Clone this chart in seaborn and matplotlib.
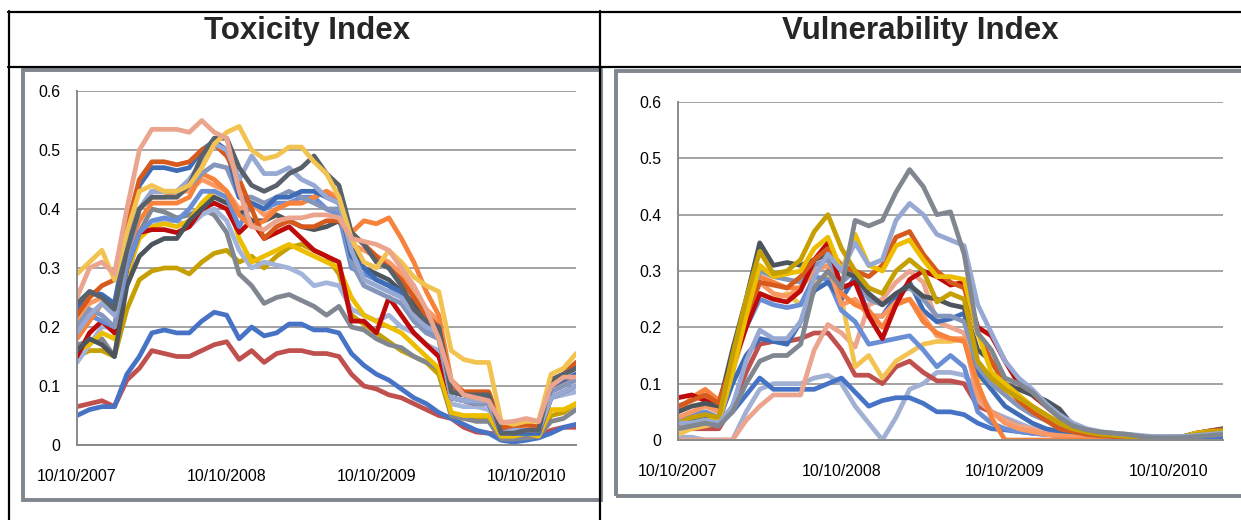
import matplotlib
matplotlib.use("Agg")
import matplotlib.pyplot as plt
import pandas as pd
import seaborn as sns
from matplotlib.patches import Rectangle
from matplotlib.lines import Line2D

# ---------------- data ----------------
months = list(range(41))                       # months since 10/10/2007
tick_months = [0, 12, 24, 36]
tick_labels = ["10/10/2007", "10/10/2008", "10/10/2009", "10/10/2010"]
y_ticks = [0, 0.1, 0.2, 0.3, 0.4, 0.5, 0.6]
y_tick_labels = ["0", "0.1", "0.2", "0.3", "0.4", "0.5", "0.6"]
titles = ["Toxicity Index", "Vulnerability Index"]

# Toxicity Index series
tox_salmon = [0.25,0.30,0.31,0.29,0.40,0.50,0.535,0.535,0.535,0.53,0.55,0.53,0.52,0.43,0.37,0.365,0.38,0.385,0.385,0.39,0.39,0.385,0.35,0.345,0.34,0.33,0.30,0.27,0.23,0.18,0.11,0.085,0.08,0.075,0.038,0.04,0.045,0.04,0.10,0.115,0.115]
tox_yellow = [0.29,0.31,0.33,0.28,0.36,0.43,0.44,0.43,0.43,0.44,0.47,0.51,0.53,0.54,0.50,0.485,0.49,0.505,0.505,0.48,0.46,0.42,0.35,0.31,0.30,0.33,0.31,0.285,0.27,0.26,0.16,0.145,0.14,0.14,0.04,0.035,0.04,0.04,0.12,0.13,0.155]
tox_dorange = [0.22,0.25,0.27,0.28,0.37,0.45,0.48,0.48,0.475,0.48,0.50,0.51,0.49,0.45,0.40,0.35,0.37,0.38,0.37,0.37,0.38,0.38,0.36,0.34,0.32,0.30,0.28,0.25,0.22,0.20,0.10,0.09,0.09,0.09,0.03,0.03,0.035,0.03,0.11,0.12,0.14]
tox_dgray = [0.24,0.26,0.25,0.23,0.33,0.40,0.42,0.42,0.42,0.44,0.49,0.52,0.52,0.47,0.44,0.43,0.44,0.46,0.47,0.49,0.46,0.44,0.36,0.34,0.31,0.30,0.27,0.23,0.21,0.20,0.09,0.085,0.085,0.085,0.02,0.02,0.025,0.025,0.11,0.12,0.13]
tox_royal = [0.23,0.26,0.255,0.24,0.35,0.44,0.47,0.47,0.465,0.47,0.50,0.515,0.50,0.42,0.41,0.40,0.42,0.42,0.43,0.43,0.42,0.41,0.32,0.30,0.28,0.27,0.26,0.22,0.21,0.19,0.09,0.085,0.08,0.08,0.025,0.02,0.02,0.02,0.10,0.11,0.12]
tox_lsteel = [0.19,0.22,0.24,0.22,0.33,0.40,0.43,0.43,0.43,0.45,0.48,0.51,0.50,0.45,0.49,0.46,0.46,0.47,0.45,0.44,0.42,0.41,0.33,0.28,0.27,0.26,0.25,0.22,0.20,0.19,0.08,0.075,0.075,0.075,0.02,0.025,0.025,0.025,0.08,0.09,0.10]
tox_grayblue = [0.20,0.23,0.22,0.20,0.32,0.40,0.43,0.43,0.43,0.44,0.46,0.475,0.47,0.42,0.42,0.41,0.42,0.43,0.42,0.41,0.40,0.40,0.31,0.27,0.26,0.25,0.24,0.21,0.19,0.18,0.08,0.075,0.07,0.07,0.02,0.02,0.02,0.02,0.09,0.10,0.11]
tox_orange = [0.18,0.21,0.24,0.23,0.33,0.38,0.41,0.41,0.41,0.42,0.46,0.45,0.43,0.39,0.37,0.38,0.40,0.41,0.41,0.42,0.43,0.41,0.36,0.38,0.375,0.385,0.35,0.31,0.26,0.22,0.11,0.09,0.09,0.09,0.03,0.03,0.035,0.03,0.10,0.11,0.12]
tox_blue = [0.20,0.22,0.21,0.20,0.30,0.36,0.38,0.385,0.38,0.40,0.43,0.43,0.42,0.37,0.41,0.40,0.41,0.41,0.42,0.42,0.40,0.39,0.30,0.29,0.28,0.27,0.25,0.22,0.20,0.18,0.08,0.075,0.075,0.075,0.02,0.02,0.02,0.02,0.08,0.09,0.10]
tox_red = [0.15,0.19,0.21,0.19,0.30,0.36,0.365,0.365,0.36,0.37,0.40,0.41,0.40,0.36,0.38,0.35,0.36,0.37,0.35,0.33,0.32,0.31,0.21,0.21,0.19,0.25,0.22,0.19,0.17,0.15,0.08,0.075,0.07,0.07,0.02,0.02,0.02,0.02,0.08,0.09,0.10]
tox_gold = [0.16,0.17,0.19,0.18,0.29,0.35,0.37,0.375,0.37,0.38,0.41,0.43,0.42,0.35,0.31,0.32,0.33,0.34,0.33,0.32,0.31,0.30,0.25,0.22,0.21,0.20,0.19,0.17,0.15,0.13,0.055,0.05,0.05,0.05,0.015,0.015,0.02,0.015,0.06,0.06,0.07]
tox_olive = [0.15,0.16,0.16,0.15,0.23,0.28,0.295,0.30,0.30,0.29,0.31,0.325,0.33,0.31,0.32,0.30,0.32,0.335,0.34,0.33,0.32,0.29,0.22,0.205,0.19,0.175,0.16,0.15,0.14,0.12,0.05,0.045,0.045,0.045,0.015,0.015,0.015,0.015,0.05,0.055,0.07]
tox_gray = [0.17,0.175,0.18,0.15,0.28,0.36,0.40,0.395,0.385,0.39,0.40,0.39,0.36,0.29,0.27,0.24,0.25,0.255,0.245,0.235,0.22,0.235,0.20,0.195,0.18,0.17,0.165,0.15,0.14,0.13,0.05,0.045,0.04,0.04,0.01,0.01,0.012,0.015,0.04,0.045,0.06]
tox_lblue = [0.14,0.17,0.20,0.20,0.31,0.36,0.37,0.38,0.38,0.37,0.39,0.40,0.38,0.33,0.30,0.31,0.305,0.30,0.29,0.27,0.275,0.27,0.23,0.22,0.21,0.22,0.20,0.19,0.17,0.16,0.07,0.065,0.065,0.06,0.02,0.02,0.02,0.02,0.08,0.085,0.09]
tox_blue2 = [0.05,0.06,0.065,0.065,0.12,0.15,0.19,0.195,0.19,0.19,0.21,0.225,0.22,0.18,0.20,0.185,0.19,0.205,0.205,0.195,0.195,0.19,0.155,0.135,0.12,0.11,0.095,0.08,0.07,0.055,0.045,0.035,0.025,0.02,0.008,0.005,0.008,0.012,0.02,0.03,0.035]
tox_brick = [0.065,0.07,0.075,0.065,0.11,0.13,0.16,0.155,0.15,0.15,0.16,0.17,0.175,0.145,0.16,0.14,0.155,0.16,0.16,0.155,0.155,0.15,0.12,0.10,0.095,0.085,0.08,0.07,0.06,0.05,0.045,0.03,0.022,0.02,0.018,0.012,0.012,0.015,0.025,0.03,0.03]
tox_slate = [0.16,0.18,0.17,0.15,0.27,0.32,0.34,0.35,0.35,0.38,0.40,0.42,0.41,0.40,0.38,0.38,0.39,0.38,0.37,0.365,0.37,0.38,0.34,0.30,0.29,0.28,0.26,0.24,0.22,0.20,0.09,0.085,0.08,0.075,0.02,0.02,0.02,0.02,0.11,0.12,0.13]
tox_coral = [0.21,0.24,0.25,0.23,0.33,0.40,0.42,0.42,0.43,0.43,0.45,0.44,0.43,0.40,0.41,0.39,0.40,0.41,0.41,0.42,0.43,0.42,0.34,0.33,0.32,0.31,0.29,0.26,0.23,0.21,0.09,0.085,0.085,0.08,0.025,0.025,0.03,0.025,0.10,0.105,0.11]

# Vulnerability Index series
vul_gray = [0.02,0.025,0.03,0.025,0.05,0.10,0.14,0.15,0.15,0.17,0.27,0.30,0.27,0.39,0.38,0.39,0.44,0.48,0.45,0.40,0.405,0.33,0.19,0.16,0.11,0.10,0.085,0.06,0.04,0.025,0.018,0.014,0.012,0.01,0.006,0.004,0.004,0.004,0.006,0.008,0.01]
vul_lsteel = [0.03,0.03,0.035,0.03,0.06,0.14,0.195,0.18,0.18,0.21,0.29,0.33,0.30,0.35,0.31,0.32,0.39,0.42,0.40,0.365,0.355,0.345,0.24,0.19,0.14,0.11,0.09,0.065,0.045,0.03,0.02,0.015,0.012,0.01,0.008,0.006,0.006,0.006,0.008,0.01,0.012]
vul_slate = [0.05,0.06,0.065,0.06,0.16,0.25,0.35,0.31,0.315,0.31,0.32,0.33,0.30,0.29,0.26,0.24,0.26,0.275,0.255,0.25,0.24,0.235,0.16,0.14,0.10,0.09,0.08,0.07,0.055,0.025,0.015,0.012,0.01,0.008,0.006,0.005,0.005,0.006,0.012,0.016,0.02]
vul_olive = [0.03,0.04,0.045,0.04,0.15,0.25,0.335,0.295,0.30,0.32,0.37,0.40,0.34,0.30,0.27,0.26,0.30,0.32,0.30,0.245,0.26,0.25,0.14,0.11,0.09,0.075,0.06,0.045,0.03,0.02,0.014,0.01,0.008,0.006,0.005,0.004,0.004,0.005,0.01,0.014,0.016]
vul_dorange = [0.06,0.07,0.08,0.065,0.14,0.22,0.28,0.275,0.27,0.29,0.32,0.34,0.31,0.30,0.29,0.31,0.36,0.37,0.33,0.30,0.28,0.27,0.19,0.14,0.10,0.07,0.05,0.035,0.02,0.015,0.01,0.008,0.006,0.005,0.004,0.004,0.004,0.005,0.012,0.016,0.018]
vul_gold = [0.02,0.03,0.035,0.035,0.12,0.22,0.31,0.29,0.295,0.30,0.34,0.36,0.30,0.365,0.31,0.30,0.345,0.355,0.32,0.29,0.29,0.285,0.19,0.12,0.10,0.08,0.06,0.045,0.03,0.02,0.016,0.014,0.012,0.01,0.005,0.004,0.004,0.005,0.012,0.015,0.016]
vul_red = [0.075,0.08,0.07,0.06,0.13,0.20,0.26,0.25,0.245,0.265,0.32,0.35,0.27,0.28,0.22,0.18,0.24,0.285,0.30,0.29,0.275,0.28,0.20,0.185,0.14,0.10,0.08,0.06,0.04,0.025,0.015,0.01,0.008,0.006,0.005,0.004,0.004,0.005,0.01,0.012,0.014]
vul_orange = [0.05,0.075,0.09,0.07,0.14,0.22,0.29,0.28,0.27,0.27,0.32,0.33,0.26,0.24,0.23,0.20,0.24,0.25,0.21,0.19,0.18,0.175,0.10,0.04,0.0,0.0,0.0,0.0,0.0,0.0,0.0,0.0,0.0,0.0,0.0,0.0,0.0,0.004,0.012,0.016,0.02]
vul_coral = [0.04,0.05,0.06,0.05,0.13,0.21,0.28,0.26,0.255,0.27,0.30,0.31,0.24,0.25,0.22,0.22,0.245,0.25,0.22,0.185,0.18,0.18,0.08,0.05,0.03,0.02,0.015,0.01,0.008,0.006,0.005,0.004,0.004,0.004,0.003,0.003,0.003,0.004,0.01,0.014,0.016]
vul_salmon = [0.0,0.0,0.0,0.0,0.0,0.035,0.06,0.08,0.08,0.08,0.16,0.205,0.19,0.165,0.24,0.25,0.28,0.30,0.28,0.21,0.20,0.19,0.07,0.05,0.035,0.025,0.02,0.015,0.01,0.008,0.006,0.005,0.004,0.004,0.003,0.003,0.003,0.004,0.008,0.01,0.012]
vul_brick = [0.03,0.02,0.02,0.02,0.06,0.12,0.17,0.175,0.175,0.18,0.19,0.19,0.16,0.115,0.115,0.10,0.13,0.14,0.12,0.105,0.105,0.10,0.06,0.05,0.035,0.025,0.018,0.012,0.01,0.008,0.006,0.005,0.004,0.004,0.003,0.003,0.003,0.004,0.008,0.01,0.012]
vul_blue2 = [0.04,0.04,0.035,0.03,0.05,0.08,0.11,0.09,0.09,0.09,0.09,0.10,0.11,0.085,0.06,0.07,0.075,0.075,0.065,0.05,0.05,0.045,0.03,0.02,0.018,0.015,0.012,0.01,0.008,0.006,0.005,0.004,0.004,0.004,0.004,0.004,0.004,0.004,0.005,0.006,0.006]
vul_lav = [0.005,0.005,0.0,0.0,0.0,0.05,0.09,0.10,0.10,0.10,0.11,0.115,0.10,0.06,0.03,0.0,0.04,0.09,0.10,0.12,0.12,0.115,0.09,0.05,0.04,0.03,0.02,0.015,0.01,0.008,0.006,0.005,0.005,0.004,0.004,0.004,0.004,0.004,0.005,0.005,0.005]
vul_blue = [0.04,0.045,0.05,0.04,0.13,0.20,0.25,0.24,0.235,0.24,0.29,0.285,0.23,0.21,0.17,0.175,0.18,0.185,0.16,0.13,0.15,0.13,0.05,0.03,0.02,0.015,0.012,0.01,0.008,0.006,0.005,0.005,0.005,0.005,0.005,0.005,0.005,0.005,0.006,0.008,0.01]
vul_royal = [0.03,0.035,0.04,0.035,0.10,0.15,0.18,0.175,0.17,0.21,0.265,0.28,0.25,0.29,0.22,0.22,0.255,0.28,0.23,0.21,0.215,0.225,0.12,0.09,0.06,0.045,0.03,0.02,0.015,0.01,0.008,0.006,0.005,0.005,0.005,0.005,0.005,0.005,0.008,0.01,0.01]
vul_yellow = [0.01,0.02,0.025,0.03,0.12,0.20,0.26,0.25,0.26,0.24,0.28,0.29,0.25,0.13,0.15,0.11,0.14,0.155,0.17,0.175,0.175,0.18,0.11,0.10,0.09,0.07,0.05,0.035,0.02,0.012,0.01,0.01,0.01,0.01,0.006,0.005,0.005,0.005,0.01,0.012,0.014]
vul_grayblue = [0.02,0.025,0.03,0.025,0.12,0.22,0.30,0.29,0.285,0.28,0.31,0.32,0.28,0.30,0.25,0.24,0.26,0.27,0.25,0.22,0.22,0.21,0.13,0.10,0.08,0.06,0.045,0.035,0.025,0.015,0.01,0.008,0.006,0.005,0.005,0.005,0.005,0.005,0.008,0.01,0.012]

tox_series = {
    "brick": tox_brick, "blue2": tox_blue2, "olive": tox_olive, "gray": tox_gray,
    "lblue": tox_lblue, "gold": tox_gold, "red": tox_red, "slate": tox_slate,
    "blue": tox_blue, "coral": tox_coral, "orange": tox_orange, "grayblue": tox_grayblue,
    "royal": tox_royal, "dorange": tox_dorange, "lsteel": tox_lsteel, "dgray": tox_dgray,
    "yellow": tox_yellow, "salmon": tox_salmon,
}
vul_series = {
    "lav": vul_lav, "blue2": vul_blue2, "brick": vul_brick, "salmon": vul_salmon,
    "yellow": vul_yellow, "blue": vul_blue, "royal": vul_royal, "coral": vul_coral,
    "orange": vul_orange, "grayblue": vul_grayblue, "red": vul_red, "slate": vul_slate,
    "dorange": vul_dorange, "gold": vul_gold, "olive": vul_olive, "lsteel": vul_lsteel,
    "gray": vul_gray,
}

palette = {
    "salmon": "#EBA58E", "yellow": "#F2C350", "dorange": "#D65A1C", "dgray": "#59616A",
    "royal": "#3E6CB6", "lsteel": "#97A9D2", "grayblue": "#8596BB", "orange": "#F7823C",
    "blue": "#6A8ED6", "red": "#BE0A0A", "gold": "#EDBE00", "olive": "#C6A002",
    "gray": "#808790", "lblue": "#A3B4DA", "blue2": "#4673C5", "brick": "#C0504D",
    "slate": "#4C545D", "coral": "#F99862", "lav": "#A2B1D3",
}


def long_form(series):
    rows = []
    for name, vals in series.items():
        for m, v in zip(months, vals):
            rows.append({"month": m, "value": v, "series": name})
    return pd.DataFrame(rows)


# ---------------- figure ----------------
sns.set_theme(style="white")
plt.rcParams["font.family"] = ["Liberation Sans", "DejaVu Sans"]

W, H = 1241, 520
fig = plt.figure(figsize=(W / 100, H / 100), dpi=100)


def fx(x):
    return x / W


def fy(y):
    return 1 - y / H


# chart frames (drawn first so the table divider covers the left frame's edge)
frame_col = "#80868E"
fig.add_artist(Rectangle((fx(23), fy(500)), fx(601) - fx(23), fy(70) - fy(500),
                         transform=fig.transFigure, fill=False, ec=frame_col, lw=2.8, zorder=1))
fig.add_artist(Rectangle((fx(616), fy(496)), fx(1260) - fx(616), fy(71) - fy(496),
                         transform=fig.transFigure, fill=False, ec=frame_col, lw=2.8, zorder=1))

# table lines
for (x0, y0, x1, y1) in [(8, 11.5, W, 11.5), (8, 66.5, W, 66.5), (8.5, 11, 8.5, H), (599.5, 11, 599.5, H)]:
    fig.add_artist(Line2D([fx(x0), fx(x1)], [fy(y0), fy(y1)], transform=fig.transFigure,
                          color="black", lw=1.6, zorder=2))

# titles
fig.text(fx(307), fy(31), titles[0], ha="center", va="center", fontsize=22.5, fontweight="bold")
fig.text(fx(920), fy(31), titles[1], ha="center", va="center", fontsize=22.5, fontweight="bold")

ax1 = fig.add_axes([fx(77), fy(445), fx(576) - fx(77), fy(91) - fy(445)])
ax2 = fig.add_axes([fx(678), fy(440), fx(1223) - fx(678), fy(102) - fy(440)])

for ax, series in [(ax1, tox_series), (ax2, vul_series)]:
    df = long_form(series)
    sns.lineplot(data=df, x="month", y="value", hue="series", hue_order=list(series.keys()),
                 palette=palette, linewidth=3.4, legend=False, ax=ax, estimator=None,
                 sort=False, solid_joinstyle="round", solid_capstyle="round")
    ax.set_xlim(0, 40)
    ax.set_ylim(0, 0.6)
    ax.set_yticks(y_ticks)
    ax.set_yticklabels(y_tick_labels)
    ax.set_xticks(tick_months)
    ax.set_xticklabels(tick_labels)
    ax.set_xlabel("")
    ax.set_ylabel("")
    ax.set_facecolor("none")
    ax.yaxis.grid(True, color="#8A8A8A", lw=1.1)
    ax.xaxis.grid(False)
    ax.set_axisbelow(True)
    for s in ["top", "right"]:
        ax.spines[s].set_visible(False)
    for s in ["left", "bottom"]:
        ax.spines[s].set_color("#8A8A8A")
        ax.spines[s].set_linewidth(1.4)
    ax.tick_params(axis="both", length=0, labelsize=11.4, colors="black")
    ax.tick_params(axis="y", pad=12)
    ax.tick_params(axis="x", pad=17)

fig.savefig("out.png", dpi=100)
